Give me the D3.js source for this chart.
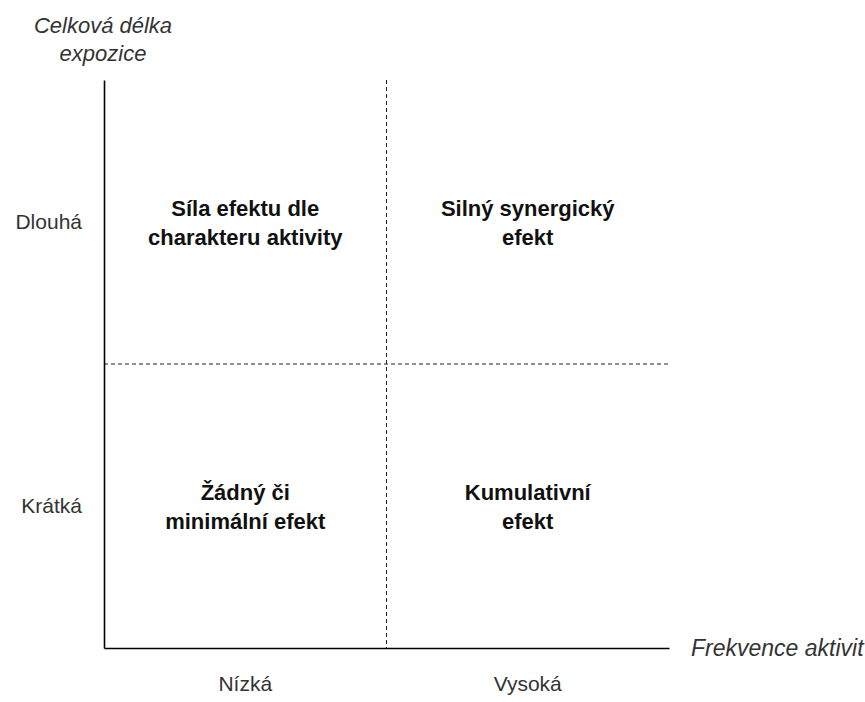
<!DOCTYPE html>
<html>
<head>
<meta charset="utf-8">
<script src="https://cdn.jsdelivr.net/npm/d3@7"></script>
<style>
    body { margin: 0; background: #fff; }
    text { font-family: "Liberation Sans", Arial, sans-serif; }
</style>
</head>
<body>
<div id="chart"></div>
<script>
// categories on both axes
var freqLevels = ["Nízká", "Vysoká"];
var lengthLevels = ["Dlouhá", "Krátká"];

// text in each quadrant, lines split
var quadrants = [
    {freq: "Nízká", len: "Dlouhá", lines: ["Síla efektu dle", "charakteru aktivity"]},
    {freq: "Vysoká", len: "Dlouhá", lines: ["Silný synergický", "efekt"]},
    {freq: "Nízká", len: "Krátká", lines: ["Žádný či", "minimální efekt"]},
    {freq: "Vysoká", len: "Krátká", lines: ["Kumulativní", "efekt"]}
];

var yTitle = ["Celková délka", "expozice"];
var xTitle = "Frekvence aktivit";

var width = 865, height = 702;
var plotLeft = 104, plotRight = 669, plotTop = 80, plotBottom = 648;

var svg = d3.select("#chart")
    .append("svg")
    .attr("width", width)
    .attr("height", height);

var x = d3.scaleBand().domain(freqLevels).range([plotLeft, plotRight]);
var y = d3.scaleBand().domain(lengthLevels).range([plotTop, plotBottom]);

// dashed dividers between the categories
svg.append("line")
    .attr("x1", x("Vysoká")).attr("x2", x("Vysoká"))
    .attr("y1", plotTop).attr("y2", plotBottom)
    .style("stroke", "#222")
    .style("stroke-width", 1)
    .style("stroke-dasharray", "4,3");

svg.append("line")
    .attr("x1", plotLeft).attr("x2", plotRight)
    .attr("y1", y("Krátká")).attr("y2", y("Krátká"))
    .style("stroke", "#222")
    .style("stroke-width", 1)
    .style("stroke-dasharray", "4,3");

// axes
var xAxis = svg.append("g")
    .attr("transform", "translate(0," + plotBottom + ")")
    .call(d3.axisBottom(x).tickSize(0).tickSizeOuter(0).tickPadding(28));

var yAxis = svg.append("g")
    .attr("transform", "translate(" + plotLeft + ",0)")
    .call(d3.axisLeft(y).tickSize(0).tickSizeOuter(0).tickPadding(22));

[xAxis, yAxis].forEach(function (g) {
    g.select(".domain").style("stroke", "#000").style("stroke-width", 1.6);
    g.selectAll("text")
        .style("font-size", "21px")
        .style("font-family", "Liberation Sans, Arial, sans-serif")
        .style("fill", "#333");
});

// quadrant labels
var q = svg.selectAll(".quad")
    .data(quadrants)
    .enter().append("text")
    .attr("class", "quad")
    .attr("text-anchor", "middle")
    .style("font-size", "22px")
    .style("font-weight", "bold")
    .style("fill", "#111");

q.selectAll("tspan")
    .data(function (d) {
        return d.lines.map(function (l, i) {
            return {text: l, i: i, n: d.lines.length, d: d};
        });
    })
    .enter().append("tspan")
    .attr("x", function (t) { return x(t.d.freq) + x.bandwidth() / 2; })
    .attr("y", function (t) {
        return y(t.d.len) + y.bandwidth() / 2 + (t.i - (t.n - 1) / 2) * 29 + 8;
    })
    .text(function (t) { return t.text; });

// axis titles
svg.append("text")
    .attr("text-anchor", "middle")
    .style("font-size", "22px")
    .style("font-style", "italic")
    .style("fill", "#333")
    .selectAll("tspan")
    .data(yTitle)
    .enter().append("tspan")
    .attr("x", plotLeft - 1)
    .attr("y", function (d, i) { return 33 + i * 28; })
    .text(function (d) { return d; });

svg.append("text")
    .attr("x", plotRight + 22)
    .attr("y", plotBottom + 8)
    .style("font-size", "23px")
    .style("font-style", "italic")
    .style("fill", "#333")
    .text(xTitle);
</script>
</body>
</html>
